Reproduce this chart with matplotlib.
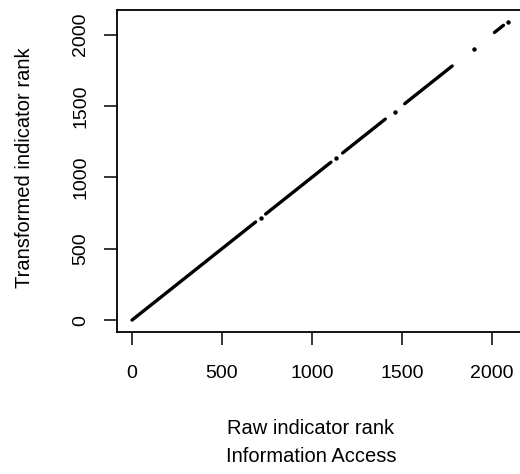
import matplotlib
matplotlib.use("Agg")
import matplotlib.pyplot as plt

plt.rcParams['font.family'] = ['Liberation Sans', 'DejaVu Sans']

# runs of consecutive ranks (raw rank start/end, transformed rank start/end)
seg_x_start = [0, 743, 1171, 1516, 2015]
seg_x_end = [687, 1106, 1408, 1780, 2065]
seg_y_start = [0, 743, 1171, 1516, 2015]
seg_y_end = [687, 1106, 1408, 1780, 2065]

# isolated single points
dot_x = [715, 1136, 1460, 1901, 2088]
dot_y = [715, 1136, 1460, 1901, 2088]

x_ticks = [0, 500, 1000, 1500, 2000]
y_ticks = [0, 500, 1000, 1500, 2000]

fig = plt.figure(figsize=(5.2, 4.74), dpi=100)
ax = fig.add_axes([0.225, 0.2996, 0.78, 0.679])

for x0, x1, y0, y1 in zip(seg_x_start, seg_x_end, seg_y_start, seg_y_end):
    ax.plot([x0, x1], [y0, y1], color='black', linewidth=2.4,
            solid_capstyle='round')
ax.plot(dot_x, dot_y, 'o', color='black', markersize=3.2, markeredgewidth=0)

ax.set_xlim(-83.5, 2171.5)
ax.set_ylim(-83.5, 2171.5)
ax.set_xticks(x_ticks)
ax.set_yticks(y_ticks)
ax.tick_params(direction='out', length=9.6, width=1.1, labelsize=14)
ax.tick_params(axis='x', pad=14.5)
ax.tick_params(axis='y', pad=10.5)
for lab in ax.get_yticklabels():
    lab.set_rotation(90)
    lab.set_va('center')
for sp in ax.spines.values():
    sp.set_linewidth(1.3)

fig.text(311 / 520, 1 - 429 / 474, 'Raw indicator rank', ha='center',
         va='center', fontsize=14.5)
fig.text(311 / 520, 1 - 457 / 474, 'Information Access', ha='center',
         va='center', fontsize=14.5)
fig.text(25 / 520, 1 - 168 / 474, 'Transformed indicator rank', ha='center',
         va='center', rotation=90, fontsize=14.5)

fig.savefig('out.png', dpi=100)
